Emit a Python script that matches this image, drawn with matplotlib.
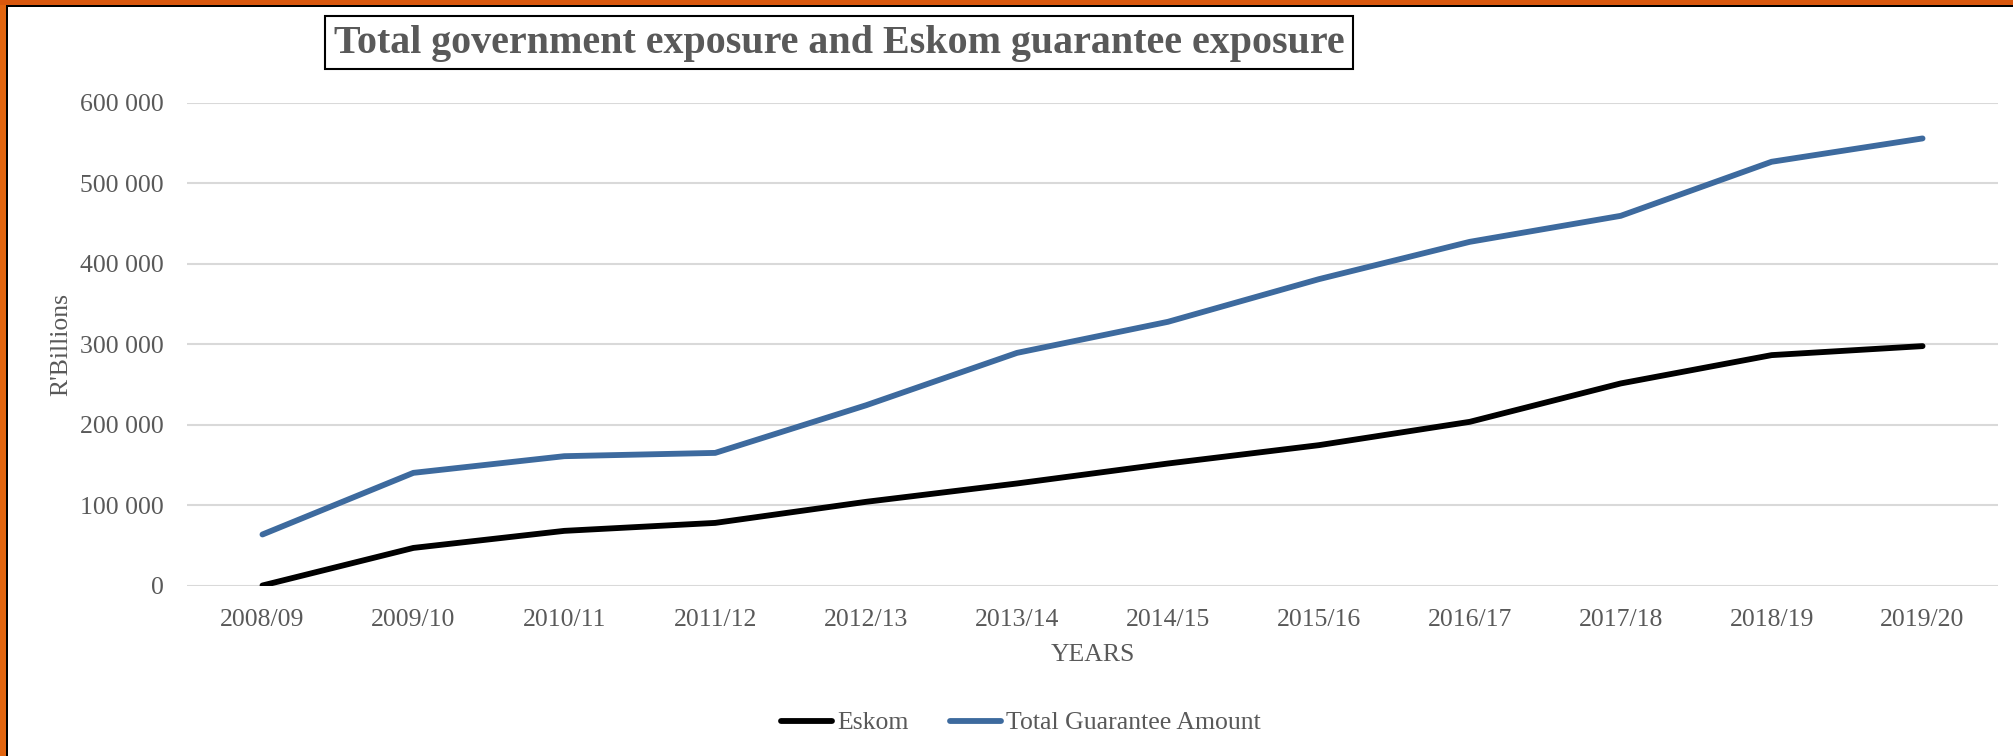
#importing package
import numpy as np
import matplotlib.pyplot as plt
from matplotlib.patches import Rectangle

#data
years = ['2008/09', '2009/10', '2010/11', '2011/12', '2012/13', '2013/14',
         '2014/15', '2015/16', '2016/17', '2017/18', '2018/19', '2019/20']
eskom = [0, 46700, 67900, 77800, 104000, 126800,
         151600, 174400, 203400, 251100, 286300, 297500]
total = [63400, 140000, 160700, 164800, 224000, 289100,
         327700, 380700, 427100, 459400, 526600, 555600]
yticks = [0, 100000, 200000, 300000, 400000, 500000, 600000]
ytick_labels = ['0', '100 000', '200 000', '300 000', '400 000', '500 000', '600 000']

grey = '#595959'
plt.rcParams['font.family'] = ['Liberation Serif', 'DejaVu Serif']

fig = plt.figure(figsize=(20.13, 7.56), dpi=100)
fig.patch.set_facecolor('white')

#orange frame on top and left edges
fig.patches.append(Rectangle((0, 1 - 7/756), 1, 7/756, transform=fig.transFigure,
                             facecolor='black', edgecolor='none', zorder=0))
fig.patches.append(Rectangle((0, 1 - 5/756), 1, 5/756, transform=fig.transFigure,
                             facecolor='#D9580E', edgecolor='none', zorder=1))
fig.patches.append(Rectangle((0, 0), 8/2013, 1, transform=fig.transFigure,
                             facecolor='black', edgecolor='none', zorder=0))
fig.patches.append(Rectangle((0, 0), 6/2013, 1 - 5/756, transform=fig.transFigure,
                             facecolor='#E2650F', edgecolor='none', zorder=1))

ax = fig.add_axes([187/2013, 1 - 585.5/756, 1811/2013, 482.8/756])
x = np.arange(len(years))
ax.plot(x, eskom, color='black', linewidth=4.2, solid_capstyle='round', label='Eskom', zorder=3)
ax.plot(x, total, color='#3D6A9E', linewidth=4.2, solid_capstyle='round',
        label='Total Guarantee Amount', zorder=3)

ax.set_xlim(-0.5, len(years) - 0.5)
ax.set_ylim(0, 600000)
ax.set_xticks(x)
ax.set_xticklabels(years)
ax.set_yticks(yticks)
ax.set_yticklabels(ytick_labels)
ax.tick_params(axis='both', length=0, labelsize=18.5, labelcolor=grey)
ax.tick_params(axis='x', pad=17)
ax.tick_params(axis='y', pad=17)
ax.grid(axis='y', color='#D9D9D9', linewidth=1.5, zorder=0)
for s in ax.spines.values():
    s.set_visible(False)
ax.set_axisbelow(True)

ax.set_xlabel('YEARS', fontsize=18.5, color=grey, labelpad=9)
ax.set_ylabel("R'Billions", fontsize=18.5, color=grey, labelpad=5)

#title in a box
fig.patches.append(Rectangle((325/2013, 1 - 69/756), 1028/2013, 53/756,
                             transform=fig.transFigure, facecolor='white',
                             edgecolor='black', linewidth=1.5, zorder=2))
fig.text(839/2013, 1 - 43/756, 'Total government exposure and Eskom guarantee exposure',
         ha='center', va='center', fontsize=28.8, fontweight='bold', color=grey, zorder=3)

ax.legend(loc='center', bbox_to_anchor=(1021/2013, 1 - 723/756),
          bbox_transform=fig.transFigure, ncol=2, frameon=False,
          fontsize=18.5, labelcolor=grey, handlelength=2.0, handletextpad=0.2,
          columnspacing=1.6)

fig.savefig('out.png', dpi=100)
